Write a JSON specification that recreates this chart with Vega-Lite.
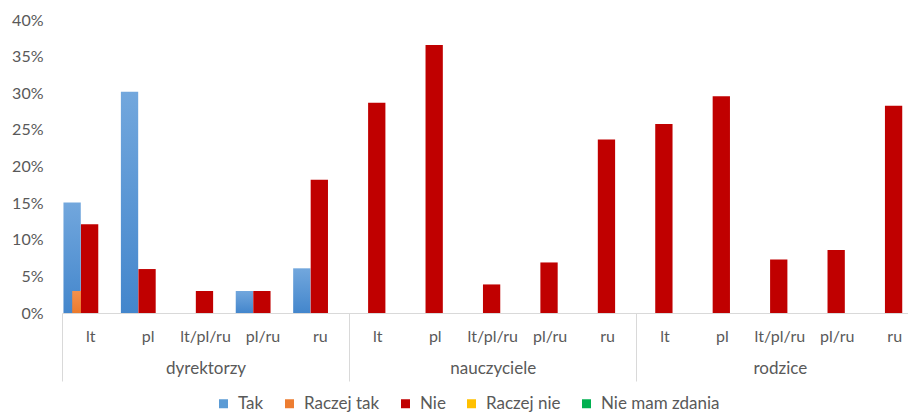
{
  "$schema": "https://vega.github.io/schema/vega-lite/v6.json",
  "width": 846,
  "height": 293,
  "autosize": {"type": "none"},
  "padding": {"left": 62, "top": 20, "right": 0, "bottom": 101},
  "config": {
    "font": "Lato",
    "view": {"stroke": null},
    "axis": {"labelColor": "#595959", "labelFontSize": 16, "labelFont": "Lato", "title": null}
  },
  "layer": [
    {
      "data": {
        "values": [
          {"klucz": "dyrektorzy|lt", "odp": "Tak", "v": 0.151},
          {"klucz": "dyrektorzy|lt", "odp": "Raczej tak", "v": 0.030},
          {"klucz": "dyrektorzy|lt", "odp": "Nie", "v": 0.121},
          {"klucz": "dyrektorzy|pl", "odp": "Tak", "v": 0.302},
          {"klucz": "dyrektorzy|pl", "odp": "Nie", "v": 0.060},
          {"klucz": "dyrektorzy|lt/pl/ru", "odp": "Nie", "v": 0.030},
          {"klucz": "dyrektorzy|pl/ru", "odp": "Tak", "v": 0.030},
          {"klucz": "dyrektorzy|pl/ru", "odp": "Nie", "v": 0.030},
          {"klucz": "dyrektorzy|ru", "odp": "Tak", "v": 0.061},
          {"klucz": "dyrektorzy|ru", "odp": "Nie", "v": 0.182},
          {"klucz": "nauczyciele|lt", "odp": "Nie", "v": 0.287},
          {"klucz": "nauczyciele|pl", "odp": "Nie", "v": 0.366},
          {"klucz": "nauczyciele|lt/pl/ru", "odp": "Nie", "v": 0.039},
          {"klucz": "nauczyciele|pl/ru", "odp": "Nie", "v": 0.069},
          {"klucz": "nauczyciele|ru", "odp": "Nie", "v": 0.237},
          {"klucz": "rodzice|lt", "odp": "Nie", "v": 0.258},
          {"klucz": "rodzice|pl", "odp": "Nie", "v": 0.296},
          {"klucz": "rodzice|lt/pl/ru", "odp": "Nie", "v": 0.073},
          {"klucz": "rodzice|pl/ru", "odp": "Nie", "v": 0.086},
          {"klucz": "rodzice|ru", "odp": "Nie", "v": 0.283}
        ]
      },
      "mark": {"type": "bar", "width": 17.3},
      "encoding": {
        "x": {
          "field": "klucz",
          "type": "nominal",
          "scale": {
            "domain": [
              "dyrektorzy|lt", "dyrektorzy|pl", "dyrektorzy|lt/pl/ru", "dyrektorzy|pl/ru", "dyrektorzy|ru",
              "nauczyciele|lt", "nauczyciele|pl", "nauczyciele|lt/pl/ru", "nauczyciele|pl/ru", "nauczyciele|ru",
              "rodzice|lt", "rodzice|pl", "rodzice|lt/pl/ru", "rodzice|pl/ru", "rodzice|ru"
            ],
            "range": [0, 861.4],
            "paddingInner": 0,
            "paddingOuter": 0
          },
          "axis": {
            "orient": "bottom",
            "labelExpr": "split(datum.value, '|')[1]",
            "labelAngle": 0,
            "ticks": false,
            "domainColor": "#d9d9d9",
            "labelPadding": 15
          }
        },
        "xOffset": {
          "field": "odp",
          "type": "nominal",
          "scale": {
            "domain": ["Tak", "Raczej tak", "Nie", "Raczej nie", "Nie mam zdania"],
            "paddingInner": 0,
            "paddingOuter": 0.78,
            "align": 0.42
          }
        },
        "y": {
          "field": "v",
          "type": "quantitative",
          "stack": null,
          "scale": {"domain": [0, 0.4]},
          "axis": {
            "values": [0, 0.05, 0.1, 0.15, 0.2, 0.25, 0.3, 0.35, 0.4],
            "format": ".0%",
            "grid": false,
            "ticks": false,
            "domain": false,
            "labelPadding": 19
          }
        },
        "fill": {
          "field": "odp",
          "type": "nominal",
          "condition": [
            {
              "test": "datum.odp === 'Tak'",
              "value": {
                "gradient": "linear", "x1": 0, "y1": 0, "x2": 0, "y2": 1,
                "stops": [{"offset": 0, "color": "#72A7DD"}, {"offset": 1, "color": "#4386CC"}]
              }
            },
            {
              "test": "datum.odp === 'Raczej tak'",
              "value": {
                "gradient": "linear", "x1": 0, "y1": 0, "x2": 0, "y2": 1,
                "stops": [{"offset": 0, "color": "#F4914C"}, {"offset": 1, "color": "#EB7A2C"}]
              }
            }
          ],
          "scale": {
            "domain": ["Tak", "Raczej tak", "Nie", "Raczej nie", "Nie mam zdania"],
            "range": ["#5B9BD5", "#ED7D31", "#C00000", "#FFC000", "#00B050"]
          },
          "legend": {
            "title": null,
            "orient": "none",
            "direction": "horizontal",
            "legendX": 153,
            "legendY": 375,
            "symbolType": "square",
            "symbolSize": 81,
            "symbolStrokeWidth": 0,
            "labelFontSize": 17,
            "labelFont": "Lato",
            "labelColor": "#595959",
            "labelOffset": 6,
            "columnPadding": 17
          }
        }
      }
    },
    {
      "data": {"values": [{"grupa": "dyrektorzy"}, {"grupa": "nauczyciele"}, {"grupa": "rodzice"}]},
      "mark": {"type": "bar", "opacity": 0},
      "encoding": {
        "x": {
          "field": "grupa",
          "type": "nominal",
          "scale": {
            "domain": ["dyrektorzy", "nauczyciele", "rodzice"],
            "range": [0, 861.4],
            "paddingInner": 0,
            "paddingOuter": 0
          },
          "axis": {
            "orient": "bottom",
            "domain": false,
            "ticks": true,
            "tickBand": "extent",
            "tickSize": 68,
            "tickColor": "#d9d9d9",
            "labelAngle": 0,
            "labelFontSize": 17,
            "labelPadding": -21
          }
        }
      }
    }
  ],
  "resolve": {"scale": {"x": "independent"}, "axis": {"x": "independent"}}
}
